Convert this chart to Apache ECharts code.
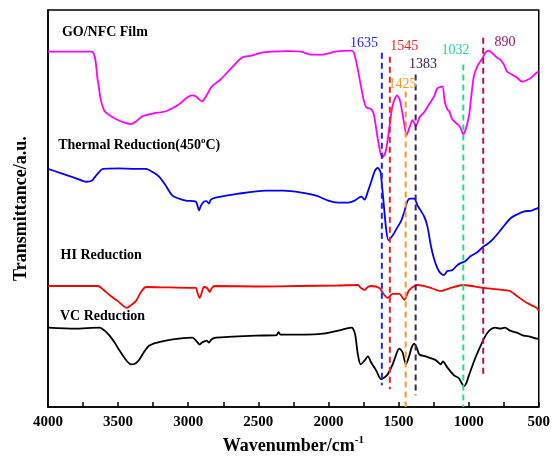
<!DOCTYPE html>
<html>
<head>
<meta charset="utf-8">
<script src="https://cdn.jsdelivr.net/npm/echarts@6/dist/echarts.min.js"></script>
<style>html,body{margin:0;padding:0;background:#fff}#c{width:553px;height:460px}</style>
</head>
<body>
<div id="c"></div>
<script>
// [wavenumber (cm-1), transmittance (a.u., offset)]
const goNfc = [[4000,358],[3690,358],[3646,330],[3624,310],[3596,298],[3561,294],[3513,290],[3454,286.5],[3407,285],[3369,288],[3327,293],[3242,296],[3159,298],[3065,305],[3015,311],[2975,314],[2944,313],[2923,310],[2902,308],[2873,313],[2831,323],[2769,330],[2696,341],[2618,352],[2548,354],[2477,357],[2406,358],[2285,358.5],[2193,358],[2122,355],[2052,355],[1952,358],[1837,359],[1818,357],[1790,340],[1754,313],[1731,302],[1695,300],[1676,295],[1648,270],[1627,255],[1612,252],[1591,258],[1577,270],[1563,284],[1542,304],[1511,314],[1492,310],[1471,295],[1442,274],[1421,282],[1400,289],[1376,283],[1350,292],[1317,297],[1286,304],[1246,313],[1223,321],[1187,323],[1171,308],[1152,300],[1138,298],[1117,290],[1081,285],[1060,282],[1039,275],[1025,278],[998,293],[982,312],[963,333],[939,343],[899,352],[880,357],[856,359],[821,355],[798,352],[774,350],[748,345],[727,338],[691,335],[656,332],[620,328],[562,331],[514,337],[500,338]];
const thermal = [[4000,240],[3915,236],[3809,231],[3726,227],[3688,228],[3653,234],[3608,240],[3490,240.5],[3384,240],[3301,240],[3256,237],[3206,232],[3164,224],[3112,213],[3065,210],[3017,208],[2946,207],[2934,203],[2923,198],[2909,203],[2888,207],[2870,207.5],[2852,205],[2838,209],[2805,211],[2640,215],[2450,218],[2321,218],[2191,216],[2087,213],[2002,208],[1931,206],[1860,206],[1813,208],[1766,212],[1742,209],[1719,217],[1695,227],[1669,238],[1648,241],[1629,237],[1619,225],[1607,207],[1589,180],[1572,168],[1541,173],[1513,180],[1483,187],[1456,198],[1435,208],[1414,210],[1388,210],[1364,203],[1317,192],[1294,182],[1270,163],[1248,150],[1223,140],[1201,135],[1175,133],[1152,137],[1116,138],[1088,142],[1058,145],[1024,147],[987,152],[939,156],[892,162],[868,164],[821,170],[762,180],[703,190],[656,194],[608,197],[550,198],[514,200],[500,201]];
const hiRed = [[4000,122],[3809,122],[3644,122],[3603,118],[3561,113],[3504,107],[3438,100],[3405,103],[3372,107],[3341,115],[3301,121],[3136,120.5],[2946,120],[2934,115],[2918,110],[2902,116],[2888,121],[2866,120],[2847,116],[2831,120],[2810,122],[2498,121.5],[2215,122],[1931,122.5],[1790,123],[1768,120],[1742,118],[1719,121],[1695,122],[1636,120],[1612,115],[1577,110],[1542,114],[1494,114],[1459,108],[1423,118],[1364,123],[1322,122],[1270,120],[1199,117],[1128,120],[1039,123],[892,120],[750,118],[705,117],[656,112],[585,105],[543,102],[514,100],[500,97]];
const vcRed = [[4000,80],[3809,79],[3632,80],[3596,77],[3561,72],[3525,65],[3490,57],[3447,48],[3407,43],[3377,44],[3348,48],[3313,56],[3277,62],[3221,65],[3159,67],[3065,69],[2970,70],[2944,67],[2918,63],[2902,65],[2888,66],[2870,67],[2852,65],[2834,68],[2805,70],[2521,72],[2370,72.5],[2356,75.5],[2342,73],[2167,73],[2037,74],[1931,77],[1874,79],[1837,80],[1825,79],[1809,73],[1790,53],[1770,43],[1742,47],[1719,51],[1695,45],[1660,37],[1624,28],[1598,30],[1577,33],[1542,43],[1506,57],[1494,59],[1471,55],[1447,43],[1423,52],[1407,60],[1388,64],[1371,60],[1352,53],[1306,51],[1246,48],[1223,46],[1199,43],[1184,46],[1152,40],[1104,32],[1069,29],[1053,25],[1034,21],[1017,24],[998,32],[951,50],[904,65],[875,73],[845,78],[812,80],[774,79],[741,80],[703,77],[656,75],[608,72],[564,71],[514,69],[500,69]];

// peak marker lines: [position, top, bottom]
const peakNames = ['1635','1545','1425','1383','1032','890'];
const peakPos = [1619,1562,1449,1378,1038,896];
const peakTop = [357,353,318,335,345,372];
const peakBottom = [22,18,0,12,0,33];
const peakColors = ['#1f1fff','#ff1a1a','#ff9422','#3a2458','#1ee088','#ad1458'];
// peak label anchor [wavenumber, value]
const peakLabelPos = [[1747,366],[1459,363],[1471,325],[1325,345],[1093,359],[741,367]];

const curveNames = ['GO/NFC Film','Thermal Reduction(450°C)','HI Reduction','VC Reduction'];
const curveLabelPos = [[3901,378],[3927,265],[3910,154],[3915,92]];
const curveColors = ['#ff00ff','#0000ff','#ff0000','#000000'];
const xTicks = {min:500, max:4000, interval:500};

const FONT = '"Liberation Serif","Times New Roman",serif';
const chart = echarts.init(document.getElementById('c'));
const series = [];
[goNfc, thermal, hiRed, vcRed].forEach((d,i)=>{
  series.push({type:'line', data:d, showSymbol:false, symbol:'none', smooth:0.25, silent:true,
    lineStyle:{color:curveColors[i], width:1.8}, z:3});
});
peakPos.forEach((p,i)=>{
  series.push({type:'line', data:[[p,peakTop[i]],[p,peakBottom[i]]], symbol:'none', silent:true,
    lineStyle:{color:peakColors[i], width:2, type:[6,4]}, z:4});
});
series.push({type:'scatter', symbolSize:0, silent:true, z:5, itemStyle:{opacity:1},
  data: peakNames.map((n,i)=>({value:peakLabelPos[i], name:n,
    label:{color:peakColors[i]}})),
  label:{show:true, opacity:1, position:'inside', formatter:'{b}', fontFamily:FONT, fontSize:14}
});
series.push({type:'scatter', symbolSize:0, silent:true, z:5, itemStyle:{opacity:1},
  data: curveNames.map((n,i)=>({value:curveLabelPos[i], name:n})),
  label:{show:true, opacity:1, position:'right', distance:0, fontFamily:FONT,
    formatter:(p)=> p.name.indexOf('°')>=0 ? '{b|Thermal Reduction(450}{s|o}{b|C)}' : '{b|'+p.name+'}',
    rich:{b:{fontFamily:FONT, fontSize:14, fontWeight:'bold', color:'#000', lineHeight:16, verticalAlign:'bottom'},
          s:{fontFamily:FONT, fontSize:9, fontWeight:'bold', color:'#000', lineHeight:16, verticalAlign:'top'}}}
});

chart.setOption({
  animation:false,
  backgroundColor:'#fff',
  grid:{left:48, right:11, top:10, bottom:50, show:true, borderColor:'#000', borderWidth:1.5, backgroundColor:'transparent'},
  xAxis:{type:'value', inverse:true, min:xTicks.min, max:xTicks.max, interval:xTicks.interval,
    name:'{a|Wavenumber/cm}{s|-1}', nameLocation:'middle', nameGap:26,
    nameTextStyle:{rich:{a:{fontFamily:FONT, fontSize:18, fontWeight:'bold', color:'#000', lineHeight:20, verticalAlign:'bottom'},
                        s:{fontFamily:FONT, fontSize:11, fontWeight:'bold', color:'#000', lineHeight:20, verticalAlign:'top'}}},
    axisLine:{show:true, lineStyle:{color:'#000', width:1.5}},
    axisTick:{show:true, inside:true, length:5, lineStyle:{color:'#000', width:1.5}},
    minorTick:{show:true, splitNumber:2, length:5, lineStyle:{color:'#000', width:1.5}},
    splitLine:{show:false}, minorSplitLine:{show:false},
    axisLabel:{fontFamily:FONT, fontSize:15, fontWeight:'bold', color:'#000', margin:8, showMinLabel:true, showMaxLabel:true,
      formatter:(v)=>String(v)}
  },
  yAxis:{type:'value', min:0, max:400, name:'Transmittance/a.u.', nameLocation:'middle', nameGap:18,
    nameTextStyle:{fontFamily:FONT, fontSize:18, fontWeight:'bold', color:'#000'},
    axisLine:{show:true, lineStyle:{color:'#000', width:1.5}},
    axisTick:{show:false}, axisLabel:{show:false}, splitLine:{show:false}
  },
  series:series
});
</script>
</body>
</html>
